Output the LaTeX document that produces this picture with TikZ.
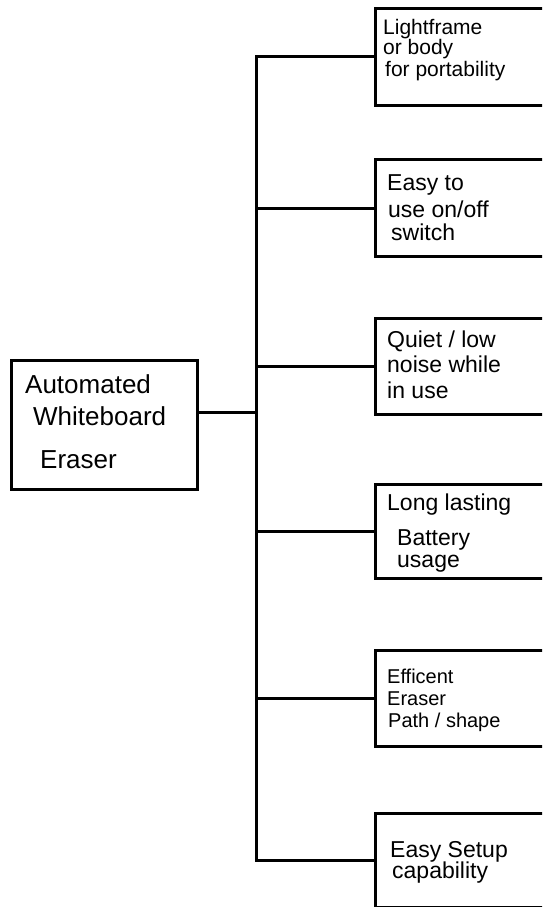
\documentclass[tikz,border=0pt]{standalone}
\usepackage{fontspec}
\setmainfont{Liberation Sans}
\begin{document}
\begin{tikzpicture}[x=1pt,y=-1pt,
  box/.style={draw=black,line width=3pt,rectangle,inner sep=0pt,anchor=north west,fill=white},
  wire/.style={draw=black,line width=3pt,line join=miter},
  lbl/.style={anchor=base west,inner sep=0pt,font=\fontsize{23}{23}\selectfont},
  lblroot/.style={anchor=base west,inner sep=0pt,font=\fontsize{26}{26}\selectfont},
  lblsmall/.style={anchor=base west,inner sep=0pt,font=\fontsize{21}{21}\selectfont},
  lbltiny/.style={anchor=base west,inner sep=0pt,font=\fontsize{20}{20}\selectfont}]
\useasboundingbox (0,0) rectangle (542,907);
\clip (0,0) rectangle (542,907);
\fill[white] (0,0) rectangle (542,907);
% root box
\node[box,minimum width=186pt,minimum height=129pt] (root) at (10,359) {};
\node[lblroot] (r1) at (25,393) {Automated};
\node[lblroot] (r2) at (33,425) {Whiteboard};
\node[lblroot] (r3) at (40,468) {Eraser};
% child boxes
\node[box,minimum width=200pt,minimum height=97pt] (b1) at (374,7) {};
\node[box,minimum width=200pt,minimum height=97pt] (b2) at (374,158) {};
\node[box,minimum width=200pt,minimum height=96pt] (b3) at (374,317) {};
\node[box,minimum width=200pt,minimum height=94pt] (b4) at (374,483) {};
\node[box,minimum width=200pt,minimum height=96pt] (b5) at (374,649) {};
\node[box,minimum width=200pt,minimum height=94pt] (b6) at (374,812) {};
% texts
\node[lblsmall] (t11) at (383,35) {Lightframe};
\node[lblsmall] (t12) at (383,55) {or body};
\node[lblsmall] (t13) at (385,76) {for portability};
\node[lbl] (t21) at (387,190) {Easy to};
\node[lbl] (t22) at (388,217) {use on/off};
\node[lbl] (t23) at (391,240) {switch};
\node[lbl] (t31) at (387,347) {Quiet / low};
\node[lbl] (t32) at (387,372) {noise while};
\node[lbl] (t33) at (387,398) {in use};
\node[lbl] (t41) at (387,510) {Long lasting};
\node[lbl] (t42) at (397,545) {Battery};
\node[lbl] (t43) at (397,567) {usage};
\node[lbltiny] (t51) at (387,683) {Efficent};
\node[lbltiny] (t52) at (387,705) {Eraser};
\node[lbltiny] (t53) at (388,727) {Path / shape};
\node[lbl] (t61) at (390,857) {Easy Setup};
\node[lbl] (t62) at (392,878) {capability};
% connectors
\coordinate (spine) at (256,0);
\coordinate (rj) at (196,412);
\draw[wire] (b1.west) -- (b1.west -| spine) -- (b6.west -| spine) -- (b6.west);
\draw[wire] (b2.west) -- (b2.west -| spine);
\draw[wire] (b3.west) -- (b3.west -| spine);
\draw[wire] (b4.west) -- (b4.west -| spine);
\draw[wire] (b5.west) -- (b5.west -| spine);
\draw[wire] (rj) -- (rj -| spine);
\end{tikzpicture}
\end{document}
